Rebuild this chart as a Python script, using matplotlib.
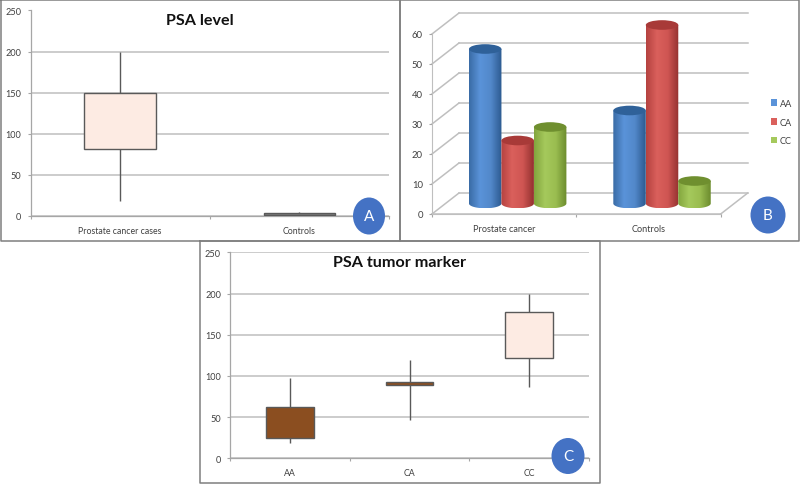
#!/usr/bin/env python3
import numpy as np
import matplotlib
matplotlib.use('Agg')
import matplotlib.pyplot as plt
from matplotlib.colors import LinearSegmentedColormap
from matplotlib.patches import Ellipse, PathPatch, Patch
from matplotlib.path import Path

plt.rcParams['font.family'] = ['Lato', 'DejaVu Sans']

W, H = 800, 485
TXT = '#404040'
GRID = '#bfbfbf'
AXIS = '#a6a6a6'
EDGE = '#595959'
BADGE = '#4472c4'
PALE = '#fdebe3'
BROWN = '#8b4e20'

# panel A
a_cats = ['Prostate cancer cases', 'Controls']
a_low = [18, 0]
a_q1 = [81, 1]
a_q3 = [150, 4]
a_high = [200, 5]
a_colors = [PALE, '#7f7f7f']

# panel B
b_cats = ['Prostate cancer', 'Controls']
b_series = ['AA', 'CA', 'CC']
b_aa = [51.5, 31]
b_ca = [21, 59.5]
b_cc = [25.5, 7.5]

# panel C
c_cats = ['AA', 'CA', 'CC']
c_low = [18, 47, 86]
c_q1 = [25, 89, 122]
c_q3 = [62, 93, 178]
c_high = [97, 119, 200]
c_colors = [BROWN, BROWN, PALE]

fig = plt.figure(figsize=(W / 100, H / 100), dpi=100, facecolor='white')


def px_axes(l, t, r, b):
    return fig.add_axes([l / W, 1 - b / H, (r - l) / W, (b - t) / H])


def box_panel(ax, cats, low, q1, q3, high, colors, title):
    x = np.arange(len(cats)) + 0.5
    ax.set_xlim(0, len(cats))
    ax.set_ylim(0, 250)
    ax.set_yticks(range(0, 251, 50))
    ax.set_xticks(range(len(cats) + 1))
    ax.set_xticklabels([])
    ax.set_xticks(x, minor=True)
    ax.set_xticklabels(cats, minor=True)
    ax.tick_params(axis='x', which='minor', length=0, labelsize=6.3,
                   labelcolor=TXT, pad=7.2)
    ax.tick_params(axis='x', which='major', length=2.5, width=0.8, color=AXIS)
    ax.tick_params(axis='y', length=2.5, width=0.8, color=AXIS, labelsize=6.6,
                   labelcolor=TXT, pad=4)
    ax.grid(True, axis='y', color=GRID, lw=1.1)
    ax.set_axisbelow(True)
    for s in ['top', 'right']:
        ax.spines[s].set_visible(False)
    for s in ['left', 'bottom']:
        ax.spines[s].set_color(AXIS)
        ax.spines[s].set_linewidth(0.9)
    ax.patch.set_alpha(0)
    ax.vlines(x, low, high, color=EDGE, lw=1.0, zorder=2)
    ax.bar(x, np.array(q3) - np.array(q1), bottom=q1, width=0.4, color=colors,
           edgecolor=EDGE, linewidth=1.0, zorder=3)
    ax.text(0.473, 0.955, title, transform=ax.transAxes, ha='center', va='center',
            fontsize=11.6, fontweight='bold', color='#111111', zorder=5)


def cylinder(ax, xc, width, val, dx, dy, stops, top_color):
    # oblique view: each bar stands halfway down the chart's depth
    cx = xc + dx / 2
    y0 = dy / 2
    y1 = val + dy / 2
    rx = width / 2
    ry = 1.6
    t = np.linspace(np.pi, 2 * np.pi, 40)
    vx = np.concatenate([cx + rx * np.cos(t), [cx + rx, cx - rx, cx - rx]])
    vy = np.concatenate([y0 + ry * np.sin(t), [y1, y1, y0]])
    cmap = LinearSegmentedColormap.from_list('c', stops)
    im = ax.imshow(np.linspace(0, 1, 64).reshape(1, -1), cmap=cmap, aspect='auto',
                   extent=[cx - rx, cx + rx, y0 - ry, y1], zorder=3)
    clip = PathPatch(Path(np.column_stack([vx, vy])), transform=ax.transData,
                     fc='none', ec='none')
    ax.add_patch(clip)
    # tall bars rise above the front plane, so don't cut them at the axes box
    im.set_clip_box(fig.bbox)
    im.set_clip_path(clip)
    ax.add_patch(Ellipse((cx, y1), width, 2 * ry, fc=top_color, ec='none', zorder=3,
                         clip_on=False))


# panel A
ax_a = px_axes(30.5, 11.5, 389, 217)
box_panel(ax_a, a_cats, a_low, a_q1, a_q3, a_high, a_colors, 'PSA level')

# panel C
ax_c = px_axes(230, 253.3, 589, 459.3)
box_panel(ax_c, c_cats, c_low, c_q1, c_q3, c_high, c_colors, 'PSA tumor marker')

# panel B
ax_b = px_axes(432, 35, 720.7, 215)
ax_b.set_xlim(0, 2)
ax_b.set_ylim(0, 60)
ax_b.patch.set_alpha(0)
DX = 27 / 144.35
DY = 7.0
for v in range(0, 61, 10):
    ax_b.plot([DX, 2 + DX], [v + DY, v + DY], color=GRID, lw=1.1, clip_on=False, zorder=1)
    ax_b.plot([0, DX], [v, v + DY], color=GRID, lw=1.1, clip_on=False, zorder=1)
ax_b.plot([2, 2 + DX], [0, DY], color=GRID, lw=1.1, clip_on=False, zorder=1)
ax_b.plot([0, 2], [0, 0], color=GRID, lw=1.1, clip_on=False, zorder=1)
ax_b.set_yticks(range(0, 61, 10))
ax_b.set_xticks([0, 1, 2])
ax_b.set_xticklabels([])
ax_b.set_xticks([0.5, 1.5], minor=True)
ax_b.set_xticklabels(b_cats, minor=True)
ax_b.tick_params(axis='x', which='minor', length=0, labelsize=6.6, labelcolor=TXT, pad=7)
ax_b.tick_params(axis='x', which='major', length=2.5, width=0.8, color=AXIS)
ax_b.tick_params(axis='y', length=2.5, width=0.8, color=AXIS, labelsize=6.8,
                 labelcolor=TXT, pad=4)
for s in ['top', 'right']:
    ax_b.spines[s].set_visible(False)
for s in ['left', 'bottom']:
    ax_b.spines[s].set_color(GRID)

b_stops = [
    (['#3a6ca6', '#5a93d9', '#5288ca', '#2c5a90'], '#2f6199'),
    (['#b54240', '#da605c', '#cf5552', '#943230'], '#a83a38'),
    (['#83a63e', '#a5c95c', '#9abd50', '#6c8c2e'], '#6f8f2f'),
]
for g in range(len(b_cats)):
    for i, vals in enumerate([b_aa, b_ca, b_cc]):
        cylinder(ax_b, g + 0.275 + 0.225 * i, 0.225, vals[g], DX, DY,
                 b_stops[i][0], b_stops[i][1])
ax_b.set_xlim(0, 2)
ax_b.set_ylim(0, 60)

handles = [Patch(fc=b_stops[i][0][1], ec='none', label=b_series[i]) for i in range(3)]
fig.legend(handles=handles, loc='center left', bbox_to_anchor=(770.7 / W, 1 - 123 / H),
           frameon=False, fontsize=6.6, labelcolor=TXT, handlelength=0.72, handleheight=0.72,
           handletextpad=0.3, labelspacing=1.05, borderpad=0, borderaxespad=0)

# frames and letter badges over everything
top = fig.add_axes([0, 0, 1, 1], zorder=10)
top.set_xlim(0, W)
top.set_ylim(H, 0)
top.axis('off')
top.patch.set_alpha(0)
frames = [(0.7, 0.7, 400, 242), (400, 0.7, 799.3, 242), (200, 242, 600, 484.3)]
for l, t, r, b in frames:
    top.plot([l, r, r, l, l], [t, t, b, b, t], color='#7f7f7f', lw=1.1)
badges = [('A', 369, 217, 32, 37), ('B', 768, 216, 35, 37), ('C', 568, 457, 33, 36)]
for name, x, y, w, h in badges:
    top.add_patch(Ellipse((x, y), w, h, fc=BADGE, ec='none'))
    top.text(x, y, name, color='white', fontsize=11, ha='center', va='center')

fig.savefig('out.png', dpi=100, facecolor='white')
